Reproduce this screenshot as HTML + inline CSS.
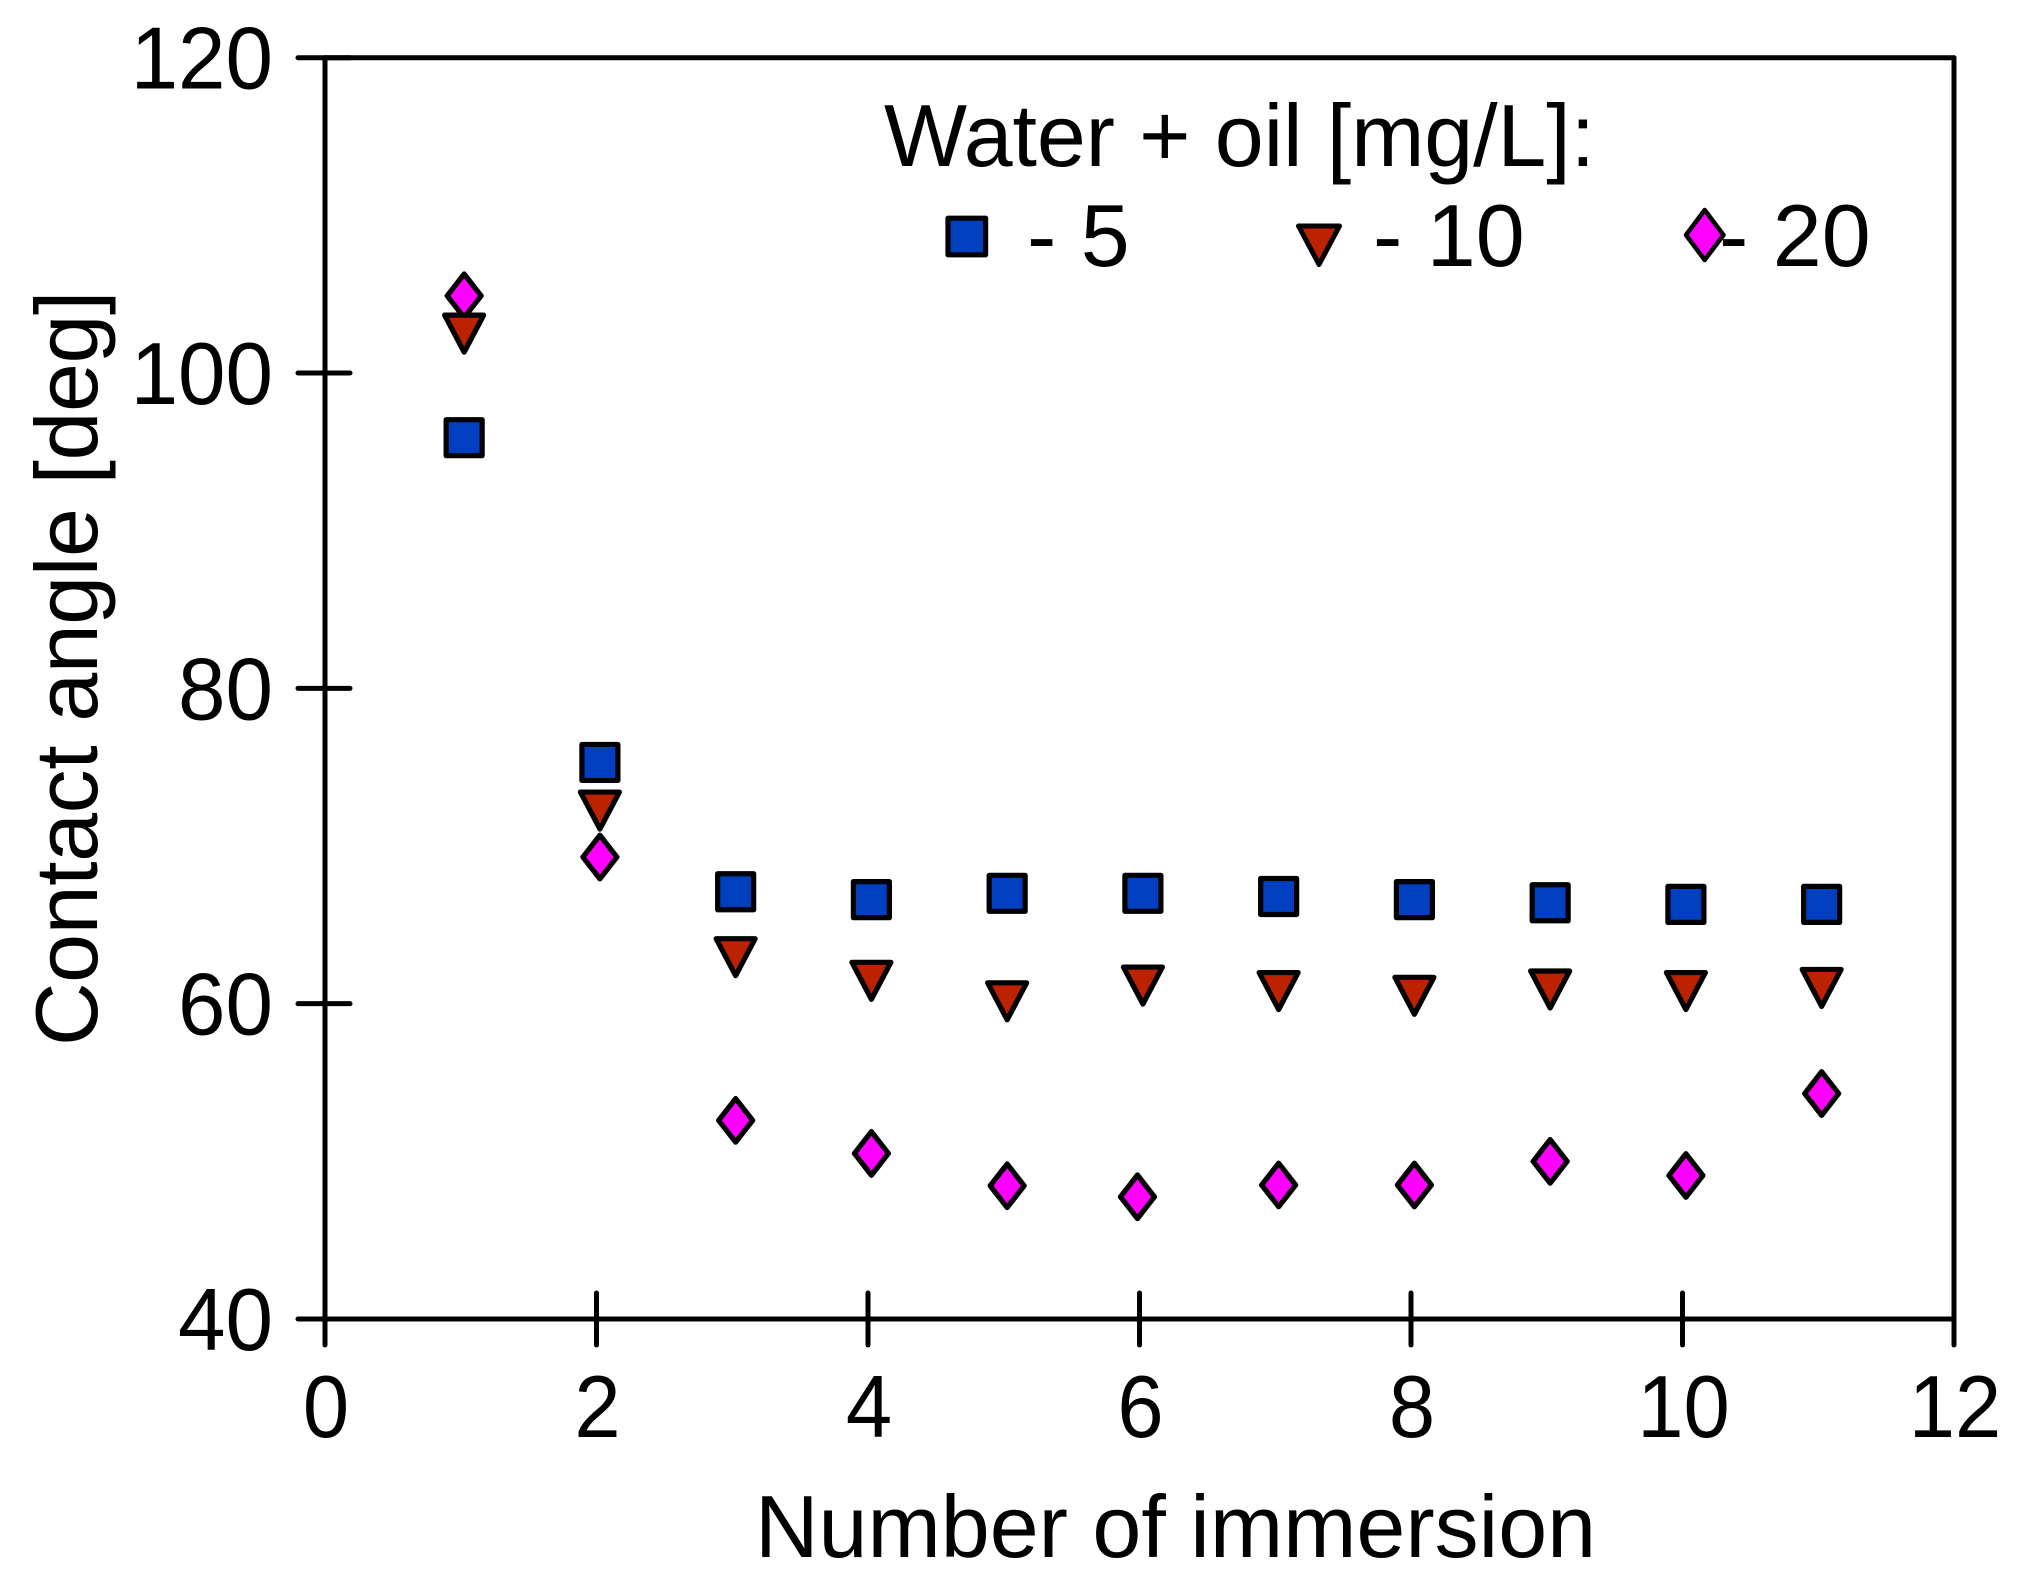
<!DOCTYPE html>
<html lang="en">
<head>
<meta charset="utf-8">
<title>Contact angle vs number of immersion</title>
<style>
html,body{margin:0;padding:0;background:#fff;}
svg{display:block;}
text{font-family:"Liberation Sans",Arial,sans-serif;fill:#000;}
</style>
</head>
<body>
<svg id="chart" xmlns="http://www.w3.org/2000/svg" width="2031" height="1581" viewBox="0 0 2031 1581">
  <rect x="0" y="0" width="2031" height="1581" fill="#ffffff"/>
  <g id="axes"></g>
  <g id="marks"></g>
  <text x="755" y="1557" font-size="88">Number of immersion</text>
  <text transform="translate(97,1046) rotate(-90)" font-size="88" letter-spacing="-0.43">Contact angle [deg]</text>
  <g>
    <text x="884" y="166" font-size="88" letter-spacing="-0.12">Water + oil [mg/L]:</text>
    <rect x="948" y="218.2" width="37.6" height="36.6" fill="#0040C0" stroke="#000" stroke-width="5.2" stroke-linejoin="round"/>
    <text x="1027" y="266" font-size="88">- 5</text>
    <polygon points="1298.5,226 1339.5,226 1319,264.5" fill="#BC2200" stroke="#000" stroke-width="5" stroke-linejoin="round"/>
    <text x="1373" y="266" font-size="88">- 10</text>
    <text x="1719" y="266" font-size="88">- 20</text>
    <polygon points="1704.7,210 1723.5,235 1704.7,260 1686,235" fill="#FF00FF" stroke="#000" stroke-width="4.5" stroke-linejoin="round"/>
  </g>
</svg>
<script>
var xTickValues = [0, 2, 4, 6, 8, 10, 12];
var yTickValues = [40, 60, 80, 100, 120];

var immersionBlue = [1, 2, 3, 4, 5, 6, 7, 8, 9, 10, 11];
var immersionRed = [1, 2, 3, 4, 5, 6, 7, 8, 9, 10, 11];
var immersionMagenta = [1, 2, 3, 4, 5, 5.96, 7, 8, 9, 10, 11];

var water5 = [95.9, 75.3, 67.1, 66.6, 67.0, 67.0, 66.8, 66.6, 66.4, 66.3, 66.3];
var water10 = [102.5, 72.25, 62.95, 61.45, 60.15, 61.15, 60.8, 60.5, 60.9, 60.8, 61.0];
var water20 = [104.9, 69.3, 52.6, 50.5, 48.45, 47.75, 48.5, 48.5, 50.0, 49.1, 54.3];

var SVG_NS = 'http://www.w3.org/2000/svg';
var X0 = 325, X_UNIT = 135.75, MARK_SHIFT = 3.4;
var Y_BASE = 1319, Y_MIN = 40, Y_UNIT = 15.766;
var X_DIGIT_SQUEEZE = 0.945;
var Y_DIGIT_SQUEEZE = 0.97;

function xAxis(v) { return X0 + v * X_UNIT; }
function yAxis(v) { return Y_BASE - (v - Y_MIN) * Y_UNIT; }
function make(tag, attrs, parent) {
  var el = document.createElementNS(SVG_NS, tag);
  for (var k in attrs) { el.setAttribute(k, attrs[k]); }
  parent.appendChild(el);
  return el;
}

var axesG = document.getElementById('axes');
var marksG = document.getElementById('marks');
var LINE = { stroke: '#000', 'stroke-width': 5, 'stroke-linecap': 'round' };
function lineAttrs(x1, y1, x2, y2) {
  return { x1: x1, y1: y1, x2: x2, y2: y2, stroke: LINE.stroke, 'stroke-width': LINE['stroke-width'], 'stroke-linecap': LINE['stroke-linecap'] };
}

var yTop = yAxis(yTickValues[yTickValues.length - 1]);
var yBottom = yAxis(yTickValues[0]);
var xLeft = xAxis(xTickValues[0]);
var xRight = xAxis(xTickValues[xTickValues.length - 1]);

var topSpine = make('line', lineAttrs(xLeft, yTop, xRight, yTop), axesG);


var rightSpine = make('line', lineAttrs(xRight, yTop, xRight, yBottom), axesG);


var leftSpine = make('line', lineAttrs(xLeft, yTop, xLeft, yBottom), axesG);


var bottomSpine = make('line', lineAttrs(xLeft, yBottom, xRight, yBottom), axesG);



xTickValues.forEach(function (v) {
  var px = xAxis(v);
  var tick = make('line', lineAttrs(px, yBottom - 26, px, yBottom + 26), axesG);
  
  
  var label = make('text', { transform: 'translate(' + (px + 1) + ',1437) scale(' + X_DIGIT_SQUEEZE + ',1)', 'font-size': 88, 'text-anchor': 'middle' }, axesG);
  label.textContent = String(v);
  
  
});

yTickValues.forEach(function (v) {
  var py = yAxis(v);
  var tick = make('line', lineAttrs(xLeft - 27, py, xLeft + 25, py), axesG);
  
  
  var label = make('text', { transform: 'translate(273,' + (py + 31) + ') scale(' + Y_DIGIT_SQUEEZE + ',1)', 'font-size': 88, 'text-anchor': 'end' }, axesG);
  label.textContent = String(v);
  
  
});

var MARK_STROKE = { stroke: '#000', 'stroke-width': 5.2, 'stroke-linejoin': 'round' };
function shapeAttrs(points, fill) {
  return { points: points, fill: fill, stroke: MARK_STROKE.stroke, 'stroke-width': MARK_STROKE['stroke-width'], 'stroke-linejoin': MARK_STROKE['stroke-linejoin'] };
}
function squarePoints(cx, cy) {
  var h = 18;
  return [cx - h, cy - h, cx + h, cy - h, cx + h, cy + h, cx - h, cy + h].join(' ');
}
function trianglePoints(cx, cy) {
  return [cx - 19.5, cy - 18.5, cx + 19.5, cy - 18.5, cx, cy + 18.5].join(' ');
}
function diamondPoints(cx, cy) {
  return [cx, cy - 21.8, cx + 17, cy, cx, cy + 21.8, cx - 17, cy].join(' ');
}

water5.forEach(function (v, i) {
  var cx = xAxis(immersionBlue[i]) + MARK_SHIFT;
  var mark = make('polygon', shapeAttrs(squarePoints(cx, yAxis(v)), '#0040C0'), marksG);
  
  
});
water20.forEach(function (v, i) {
  var cx = xAxis(immersionMagenta[i]) + MARK_SHIFT;
  var mark = make('polygon', shapeAttrs(diamondPoints(cx, yAxis(v)), '#FF00FF'), marksG);
  
  
});
water10.forEach(function (v, i) {
  var cx = xAxis(immersionRed[i]) + MARK_SHIFT;
  var mark = make('polygon', shapeAttrs(trianglePoints(cx, yAxis(v)), '#BC2200'), marksG);
  
  
});
</script>
</body>
</html>
